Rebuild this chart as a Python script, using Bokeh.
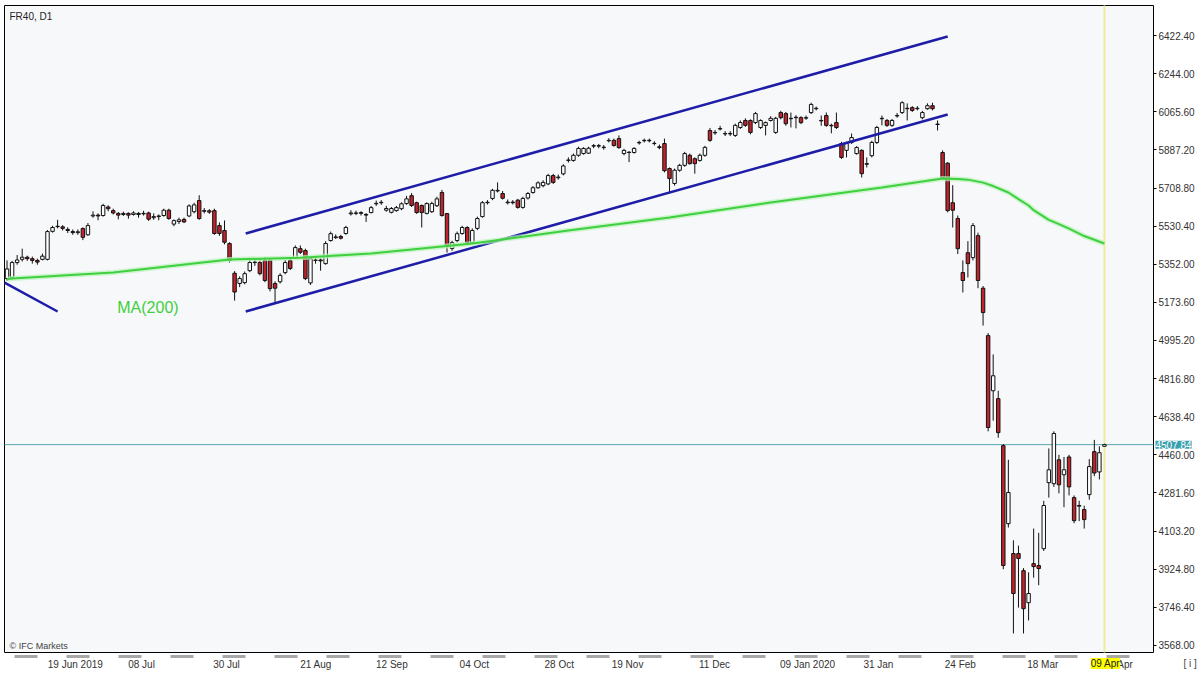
from bokeh.plotting import figure
from bokeh.models import (Range1d, FixedTicker, Label, ColumnDataSource, NumeralTickFormatter,
                          LinearAxis, BoxAnnotation)
from bokeh.embed import file_html
from bokeh.resources import INLINE

# ---------------- data (daily FR40 bars) ----------------
FIRST_BAR = 2
opens = [
    5285, 5290, 5360, 5375, 5385, 5378, 5370, 5375, 5375, 5506,
    5528, 5527, 5515, 5505, 5500, 5519, 5490, 5578, 5582, 5580,
    5620, 5603, 5590, 5585, 5590, 5585, 5590, 5588, 5592, 5570,
    5575, 5580, 5605, 5540, 5552, 5562, 5578, 5598, 5650, 5600,
    5602, 5603, 5533, 5510, 5449, 5310, 5262, 5266, 5322, 5360,
    5360, 5369, 5369, 5262, 5270, 5313, 5369, 5383, 5425, 5416,
    5265, 5370, 5372, 5355, 5463, 5477, 5482, 5496, 5588, 5590,
    5590, 5585, 5594, 5635, 5640, 5605, 5595, 5603, 5612, 5636,
    5673, 5640, 5627, 5590, 5598, 5626, 5688, 5589, 5426, 5463,
    5496, 5524, 5454, 5520, 5575, 5640, 5660, 5695, 5683, 5640,
    5643, 5652, 5618, 5662, 5688, 5710, 5720, 5728, 5767, 5757,
    5775, 5838, 5838, 5862, 5870, 5872, 5905, 5907, 5900, 5930,
    5932, 5940, 5870, 5876, 5875, 5920, 5930, 5932, 5918, 5902,
    5917, 5800, 5730, 5792, 5815, 5862, 5846, 5838, 5862, 5978,
    5967, 5985, 5962, 5964, 5955, 5992, 6025, 6025, 6015, 5992,
    6002, 6025, 5969, 6062, 6057, 6033, 6040, 6038, 6036, 6062,
    6080, 6025, 6048, 6002, 6015, 5917, 5885, 5922, 5870, 5885,
    5820, 5860, 5922, 6033, 6025, 6002, 6046, 6062, 6080, 6085,
    6080, 6038, 6080, 6094, 6008, 5875, 5825, 5640, 5566, 5313,
    5406, 5383, 5486, 5240, 5018, 4760, 4723, 4503, 4138, 3998,
    3998, 3918, 3768, 3951, 3942, 4021, 4330, 4325, 4437, 4367,
    4450, 4260, 4223, 4204, 4274, 4475, 4380, 4500,
]
highs = [
    5370, 5368, 5395, 5425, 5392, 5388, 5378, 5402, 5512, 5532,
    5560, 5535, 5525, 5515, 5515, 5525, 5545, 5600, 5590, 5635,
    5628, 5612, 5596, 5598, 5595, 5600, 5596, 5602, 5598, 5590,
    5585, 5612, 5612, 5562, 5570, 5570, 5632, 5640, 5675, 5615,
    5610, 5612, 5548, 5557, 5455, 5320, 5295, 5318, 5378, 5380,
    5370, 5385, 5378, 5272, 5310, 5372, 5385, 5440, 5440, 5425,
    5385, 5388, 5380, 5460, 5505, 5492, 5490, 5532, 5605, 5603,
    5600, 5592, 5625, 5650, 5652, 5625, 5620, 5625, 5642, 5672,
    5685, 5645, 5632, 5642, 5645, 5668, 5700, 5592, 5462, 5505,
    5532, 5530, 5520, 5575, 5648, 5652, 5705, 5735, 5695, 5655,
    5652, 5658, 5668, 5690, 5718, 5740, 5745, 5775, 5775, 5772,
    5820, 5852, 5870, 5902, 5900, 5902, 5915, 5915, 5910, 5942,
    5940, 5955, 5892, 5882, 5900, 5930, 5940, 5940, 5928, 5912,
    5940, 5805, 5800, 5822, 5878, 5870, 5852, 5870, 5906, 5990,
    5980, 6000, 5975, 5975, 6010, 6025, 6035, 6030, 6065, 6030,
    6020, 6045, 6042, 6070, 6065, 6062, 6050, 6045, 6048, 6108,
    6090, 6048, 6062, 6010, 6062, 5925, 5925, 5964, 5905, 5890,
    5852, 5930, 6000, 6048, 6032, 6032, 6060, 6115, 6105, 6092,
    6092, 6070, 6105, 6108, 6025, 5885, 5830, 5722, 5580, 5370,
    5460, 5545, 5500, 5250, 5030, 4930, 4760, 4510, 4437, 4060,
    4035, 3930, 3910, 4115, 4095, 4245, 4490, 4570, 4460, 4450,
    4460, 4270, 4245, 4222, 4440, 4530, 4500, 4512,
]
lows = [
    5275, 5282, 5350, 5365, 5368, 5355, 5350, 5370, 5370, 5500,
    5520, 5510, 5498, 5490, 5490, 5465, 5485, 5570, 5558, 5575,
    5600, 5585, 5562, 5578, 5565, 5580, 5570, 5580, 5555, 5560,
    5558, 5575, 5560, 5530, 5540, 5545, 5572, 5590, 5560, 5590,
    5588, 5490, 5485, 5445, 5360, 5182, 5245, 5258, 5315, 5345,
    5300, 5268, 5225, 5168, 5262, 5305, 5325, 5378, 5400, 5278,
    5255, 5355, 5322, 5350, 5458, 5470, 5468, 5490, 5580, 5582,
    5580, 5550, 5590, 5625, 5630, 5598, 5590, 5598, 5605, 5630,
    5620, 5588, 5524, 5585, 5592, 5620, 5575, 5407, 5415, 5455,
    5490, 5445, 5448, 5512, 5570, 5632, 5652, 5688, 5655, 5632,
    5632, 5612, 5612, 5655, 5682, 5705, 5712, 5722, 5728, 5748,
    5768, 5828, 5832, 5855, 5865, 5868, 5895, 5895, 5888, 5922,
    5902, 5892, 5862, 5830, 5870, 5912, 5922, 5922, 5908, 5890,
    5782, 5688, 5720, 5785, 5808, 5818, 5776, 5832, 5855, 5925,
    5958, 5978, 5952, 5952, 5948, 5985, 5995, 5960, 6008, 5985,
    5955, 6020, 5962, 6030, 6000, 5992, 5988, 6008, 6028, 6055,
    6072, 6000, 5995, 5965, 5985, 5845, 5852, 5915, 5865, 5758,
    5805, 5852, 5915, 6002, 5995, 5995, 6038, 6055, 6025, 6065,
    6072, 6030, 6075, 6072, 5978, 5750, 5595, 5524, 5400, 5220,
    5290, 5370, 5240, 5065, 4570, 4620, 4540, 3925, 4120, 3624,
    3745, 3624, 3685, 3885, 3850, 4010, 4260, 4310, 4280, 4215,
    4270, 4140, 4150, 4115, 4250, 4360, 4345, 4498,
]
closes = [
    5330, 5360, 5372, 5385, 5378, 5370, 5362, 5390, 5505, 5524,
    5530, 5520, 5510, 5500, 5504, 5478, 5533, 5582, 5578, 5627,
    5612, 5592, 5582, 5590, 5582, 5592, 5585, 5590, 5563, 5575,
    5578, 5605, 5566, 5556, 5560, 5550, 5625, 5630, 5566, 5603,
    5596, 5496, 5496, 5455, 5370, 5222, 5285, 5308, 5360, 5362,
    5308, 5276, 5238, 5240, 5300, 5360, 5332, 5430, 5408, 5285,
    5378, 5372, 5368, 5449, 5495, 5480, 5474, 5524, 5592, 5592,
    5594, 5582, 5617, 5637, 5642, 5613, 5613, 5617, 5635, 5658,
    5627, 5594, 5594, 5636, 5636, 5658, 5580, 5440, 5453, 5495,
    5524, 5454, 5510, 5566, 5640, 5642, 5698, 5698, 5661, 5643,
    5640, 5618, 5660, 5683, 5710, 5733, 5735, 5767, 5735, 5760,
    5812, 5840, 5862, 5894, 5894, 5895, 5907, 5905, 5898, 5932,
    5908, 5898, 5885, 5875, 5894, 5922, 5932, 5930, 5917, 5898,
    5790, 5753, 5792, 5815, 5870, 5823, 5823, 5862, 5899, 5932,
    5969, 5987, 5964, 5962, 6002, 6015, 6002, 5969, 6057, 6025,
    6015, 6035, 6035, 6038, 6010, 6035, 6038, 6015, 6038, 6100,
    6082, 6023, 6002, 6000, 5992, 5852, 5917, 5945, 5898, 5776,
    5823, 5922, 5992, 6035, 6002, 6025, 6048, 6108, 6082, 6072,
    6082, 6062, 6094, 6080, 6006, 5758, 5603, 5605, 5425, 5276,
    5355, 5533, 5276, 5126, 4588, 4830, 4564, 3942, 4284, 3811,
    3975, 3740, 3811, 3937, 3928, 4223, 4390, 4560, 4320, 4390,
    4310, 4152, 4220, 4157, 4405, 4375, 4470, 4508,
]

# 200-day moving average (bar index, value)
ma_bars = [2, 3, 23, 46, 60, 74, 94, 113, 133, 153, 175, 187, 190, 192, 195, 197, 200, 202,
           204, 205, 206, 208, 210, 212, 215, 219]
ma_vals = [5282, 5285, 5313, 5374, 5383, 5402, 5449, 5510, 5571, 5641, 5711, 5753, 5751, 5748,
           5734, 5718, 5688, 5657, 5627, 5605, 5590, 5560, 5540, 5519, 5484, 5449]

# trend channel (bar index, price)
upper_bars = [49.2, 188.0]
upper_vals = [5496, 6418]
lower_bars = [49.2, 188.0]
lower_vals = [5131, 6053]
old_bars = [1.5, 12.0]
old_vals = [5266, 5131]

last_price = 4507.84
last_bar = 219
last_bar_label = "09 Apr"

y_ticks = [3568.00, 3746.40, 3924.80, 4103.20, 4281.60, 4460.00, 4638.40, 4816.80, 4995.20,
           5173.60, 5352.00, 5530.40, 5708.80, 5887.20, 6065.60, 6244.00, 6422.40]

date_ticks = [15.5, 28.6, 45.4, 63.1, 78.1, 94.4, 111.2, 124.7, 141.9, 160.3, 174.3, 190.5, 206.8, 221.8]
date_labels = ["19 Jun 2019", "08 Jul", "30 Jul", "21 Aug", "12 Sep", "04 Oct", "28 Oct",
               "19 Nov", "11 Dec", "09 Jan 2020", "31 Jan", "24 Feb", "18 Mar", "09 Apr"]

# visible plot window (bar index / price)
X0, X1 = 1.5, 228.7
Y0, Y1 = 3535.0, 6563.0

# ---------------- figure ----------------
bars = list(range(FIRST_BAR, FIRST_BAR + len(closes)))
body_top = [max(o, c) for o, c in zip(opens, closes)]
body_bot = [min(o, c) for o, c in zip(opens, closes)]
body_col = ["#ffffff" if c >= o else "#c0232b" for o, c in zip(opens, closes)]
src = ColumnDataSource(dict(x=bars, h=highs, l=lows, top=body_top, bot=body_bot, col=body_col))

# the canvas covers the whole picture; the chart window is drawn as a box inside it
px_x = (X1 - X0) / 1149.0
px_y = (Y1 - Y0) / 647.0
FONT = "Liberation Sans"
p = figure(width=1200, height=675,
           x_range=Range1d(X0 - 4 * px_x, X0 + 1196 * px_x),
           y_range=Range1d(Y1 - 670 * px_y, Y1 + 5 * px_y),
           x_axis_location=None, y_axis_location=None,
           toolbar_location=None, output_backend="svg", min_border=0,
           background_fill_color="white", border_fill_color="white", outline_line_color=None)
p.grid.visible = False

p.add_layout(BoxAnnotation(left=X0, right=X1, bottom=Y0, top=Y1, fill_color="#f7f8fa", fill_alpha=1.0,
                           line_color="black", line_width=1, line_alpha=1.0, level="underlay"))

ya = LinearAxis(fixed_location=X1, ticker=FixedTicker(ticks=y_ticks),
                formatter=NumeralTickFormatter(format="0.00"))
ya.axis_line_color = None
ya.major_tick_in = 0
ya.major_tick_out = 3
ya.major_tick_line_color = "black"
ya.minor_tick_line_color = None
ya.major_label_standoff = 2
ya.major_label_text_font = FONT
ya.major_label_text_font_size = "10px"
ya.major_label_text_color = "#333333"
p.add_layout(ya, "right")

xa = LinearAxis(fixed_location=Y0, ticker=FixedTicker(ticks=date_ticks))
xa.major_label_overrides = {(int(t) if float(t).is_integer() else t): s for t, s in zip(date_ticks, date_labels)}
xa.axis_line_color = None
xa.major_tick_line_color = None
xa.major_tick_out = 0
xa.major_tick_in = 0
xa.minor_tick_line_color = None
xa.major_label_standoff = 6
xa.major_label_text_font = FONT
xa.major_label_text_font_size = "10px"
xa.major_label_text_color = "#333333"
p.add_layout(xa, "below")

# grey time-scale dashes just under the chart window
p.line([X0, X1], [Y0 - 4 * px_y, Y0 - 4 * px_y], line_color="#a8a8a8", line_width=3,
       line_dash="23 29", line_dash_offset=42)

# reference lines
p.line([last_bar, last_bar], [Y0, Y1], line_color="#eeee9a", line_width=2)
p.line([X0, X1], [last_price, last_price], line_color="#5aa7b4", line_width=1)

# candles
p.segment(x0="x", y0="l", x1="x", y1="h", source=src, line_color="#111111", line_width=1)
p.vbar(x="x", width=0.68, top="top", bottom="bot", fill_color="col", line_color="#111111",
       line_width=1, source=src)

# channel and moving average
for bx, bv in ((upper_bars, upper_vals), (lower_bars, lower_vals), (old_bars, old_vals)):
    p.line(bx, bv, line_color="#1d1da8", line_width=2.5)
p.line(ma_bars, ma_vals, line_color="#b8f2b8", line_width=5, line_alpha=0.7)
p.line(ma_bars, ma_vals, line_color="#3fd03f", line_width=2)

# texts
p.add_layout(Label(x=X0 + 5 * px_x, y=Y1 - 5 * px_y, text="FR40, D1", text_baseline="top", text_font=FONT,
                   text_font_size="10px", text_color="#222222"))
p.add_layout(Label(x=X0 + 5 * px_x, y=Y0 + 7 * px_y, text="© IFC Markets", text_baseline="middle",
                   text_font=FONT, text_font_size="9px", text_color="#444444"))
p.add_layout(Label(x=23.8, y=5149, text="MA(200)", text_baseline="middle", text_font=FONT,
                   text_font_size="16px", text_color="#3fcf3f"))
p.add_layout(Label(x=X1, y=last_price, x_offset=2, text=f"{last_price:.2f}", text_align="left",
                   text_baseline="middle", text_font=FONT, text_font_size="10px", text_color="white",
                   background_fill_color="#3a9fae"))
p.add_layout(Label(x=last_bar + 0.2, y=Y0 - 11 * px_y, text=last_bar_label, text_align="center",
                   text_baseline="middle", text_font=FONT, text_font_size="10px", text_color="#222222",
                   background_fill_color="#ffff00"))
p.add_layout(Label(x=X1 + 30 * px_x, y=Y0 - 11 * px_y, text="[ i ]", text_align="left",
                   text_baseline="middle", text_font=FONT, text_font_size="10px", text_color="#444444"))

open("out.html", "w").write(file_html(p, INLINE))
